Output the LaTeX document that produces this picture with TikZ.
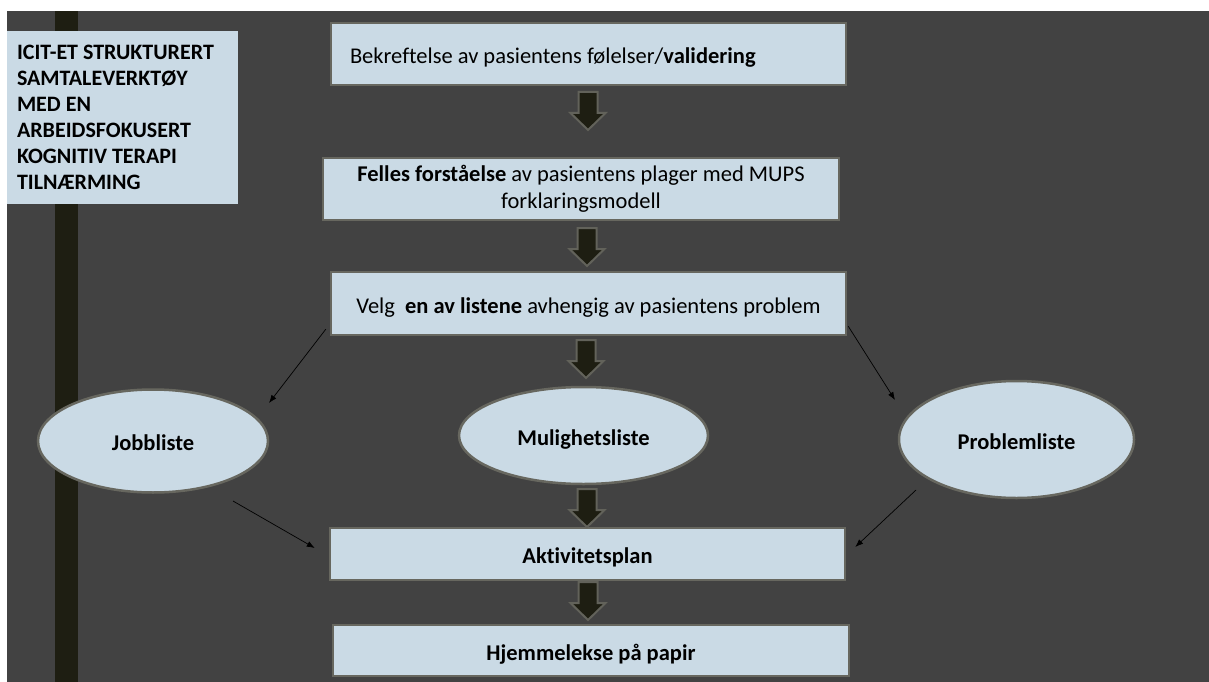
\documentclass[tikz,border=0pt]{standalone}
\usepackage{fontspec}
\setmainfont{Carlito}[Ligatures={NoCommon,NoContextual}]
\usetikzlibrary{shapes.geometric,arrows.meta}
\definecolor{bg}{HTML}{424242}
\definecolor{bar}{HTML}{1E1E12}
\definecolor{boxfill}{HTML}{CADAE5}
\definecolor{boxline}{HTML}{67675F}
\definecolor{arrline}{HTML}{62625A}
\begin{document}
\begin{tikzpicture}[x=1pt,y=-1pt,
  box/.style={draw=boxline, line width=2.5pt, fill=boxfill, inner sep=0pt,
    font=\fontsize{22.5}{27.5}\selectfont, text=black},
  oval/.style={ellipse, draw=boxline, line width=2.5pt, fill=boxfill, inner sep=0pt,
    font=\fontsize{22.5}{27}\selectfont\bfseries, text=black, text height=19pt, text depth=0pt},
  low/.style={text height=19pt, text depth=0pt},
  thinarr/.style={draw=black, line width=0.7pt, -{Latex[length=8pt,width=6pt]}},
  blk/.style={draw=arrline, line width=2pt, fill=bar, line join=miter},
  barrow/.pic={\draw[blk] (-9.5,0) -- (9.5,0) -- (9.5,21) -- (17.5,21) -- (0,38) -- (-17.5,21) -- (-9.5,21) -- cycle;}
]
\useasboundingbox (0,0) rectangle (1209,682);
\fill[white] (0,0) rectangle (1209,682);
\fill[bg] (7,11) rectangle (1209,682);
\fill[bar] (55,11) rectangle (78,682);

\node[fill=boxfill, minimum width=231pt, minimum height=173pt, inner xsep=10pt, inner ysep=0pt,
  font=\fontsize{22}{26}\selectfont\bfseries] (title) at (122.5,117.5)
  {\parbox{211pt}{\raggedright ICIT-ET STRUKTURERT\\SAMTALEVERKTØY\\MED EN\\ARBEIDSFOKUSERT\\KOGNITIV TERAPI\\TILNÆRMING}};

\node[box, low, minimum width=515pt, minimum height=62pt, inner xsep=19pt] (b1) at (588.5,54)
  {\makebox[477pt][l]{Bekreftelse av pasientens følelser/\textbf{validering}}};
\node[box, minimum width=516pt, minimum height=62pt, align=center] (b2) at (581,189)
  {\textbf{Felles forståelse} av pasientens plager med MUPS\\forklaringsmodell};
\node[box, low, minimum width=515pt, minimum height=63pt] (b3) at (588.5,303.5)
  {Velg \ \textbf{en av listene} avhengig av pasientens problem};

\node[oval, minimum width=230pt, minimum height=103pt] (job) at (153,441) {Jobbliste};
\node[oval, minimum width=249pt, minimum height=97pt] (mul) at (583.5,435.5) {Mulighetsliste};
\node[oval, minimum width=235pt, minimum height=117pt] (prob) at (1016.5,439.5) {Problemliste};

\node[box, low, minimum width=515pt, minimum height=52pt, font=\fontsize{22.5}{27}\selectfont\bfseries] (akt) at (587.5,554) {Aktivitetsplan};
\node[box, low, minimum width=516pt, minimum height=51pt, font=\fontsize{22.5}{27}\selectfont\bfseries] (hjem) at (591,650.5) {Hjemmelekse på papir};

% block arrows
\pic at (588,92) {barrow};
\pic at (587,228) {barrow};
\pic at (586,340) {barrow};
\pic at (587,489) {barrow};
\pic at (588,582) {barrow};

% thin arrows
\coordinate (s1) at ([shift={(-4,-7)}]b3.south west);
\coordinate (e1) at (269,403);
\coordinate (s2) at (233,501);
\coordinate (e2) at ([shift={(-14,-6)}]akt.west);
\coordinate (s3) at ([shift={(1,-10)}]b3.south east);
\coordinate (e3) at (895,400);
\coordinate (s4) at (916,490);
\coordinate (e4) at ([shift={(9,-7)}]akt.east);
\draw[thinarr] (s1) -- (e1);
\draw[thinarr] (s2) -- (e2);
\draw[thinarr] (s3) -- (e3);
\draw[thinarr] (s4) -- (e4);
\end{tikzpicture}
\end{document}
